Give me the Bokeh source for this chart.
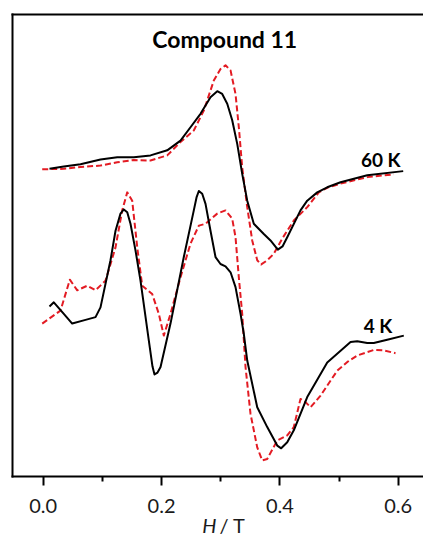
from bokeh.plotting import figure
from bokeh.models import Range1d, LinearAxis, FixedTicker, Label, NumeralTickFormatter
from bokeh.embed import file_html
from bokeh.resources import INLINE

# EPR spectra of compound 11: experiment (solid) and simulation (dashed).
# Intensities are in arbitrary units and already include the vertical
# stacking offset of each temperature.

# 60 K, experiment
h_60k_exp = [0.0106, 0.0348, 0.0630, 0.0968, 0.1251, 0.1531, 0.1813, 0.2096, 0.2320,
             0.2489, 0.2658, 0.2827, 0.2941, 0.3025, 0.3110, 0.3194, 0.3279, 0.3363,
             0.3448, 0.3559, 0.3728, 0.3841, 0.3965, 0.4044, 0.4124, 0.4348, 0.4462,
             0.4631, 0.4800, 0.5025, 0.5476, 0.6084]
i_60k_exp = [6.66, 6.71, 6.76, 6.86, 6.91, 6.91, 6.95, 7.06, 7.27,
             7.56, 7.85, 8.21, 8.34, 8.28, 8.07, 7.71, 7.20, 6.55,
             5.97, 5.47, 5.25, 5.11, 4.91, 4.98, 5.18, 5.76, 5.97,
             6.15, 6.26, 6.37, 6.52, 6.61]

# 60 K, simulation
h_60k_sim = [-0.0017, 0.0348, 0.0630, 0.0968, 0.1251, 0.1531, 0.1813, 0.2096, 0.2320,
             0.2545, 0.2714, 0.2883, 0.2996, 0.3081, 0.3166, 0.3250, 0.3306, 0.3363,
             0.3448, 0.3532, 0.3617, 0.3684, 0.3786, 0.3897, 0.4039, 0.4235, 0.4462,
             0.4658, 0.4800, 0.5025, 0.5476, 0.5925]
i_60k_sim = [6.65, 6.66, 6.70, 6.73, 6.80, 6.85, 6.84, 6.95, 7.24,
             7.49, 7.92, 8.57, 8.82, 8.90, 8.79, 8.28, 7.56, 6.69,
             5.83, 5.11, 4.68, 4.59, 4.68, 4.82, 5.15, 5.54, 5.83,
             6.15, 6.25, 6.34, 6.48, 6.54]

# 4 K, experiment
h_4k_exp = [0.0106, 0.0179, 0.0348, 0.0490, 0.0715, 0.0884, 0.0968, 0.1137, 0.1222,
            0.1306, 0.1362, 0.1420, 0.1475, 0.1560, 0.1644, 0.1785, 0.1847, 0.1881,
            0.1932, 0.1983, 0.2151, 0.2376, 0.2545, 0.2591, 0.2630, 0.2687, 0.2743,
            0.2827, 0.2912, 0.2996, 0.3081, 0.3166, 0.3250, 0.3335, 0.3390, 0.3448,
            0.3617, 0.3786, 0.3955, 0.4022, 0.4124, 0.4235, 0.4462, 0.4800, 0.5194,
            0.5307, 0.5476, 0.5587, 0.5814, 0.6094]
i_4k_exp = [3.68, 3.77, 3.52, 3.31, 3.39, 3.45, 3.66, 4.68, 5.32,
            5.69, 5.78, 5.72, 5.47, 4.89, 4.24, 2.94, 2.38, 2.21,
            2.25, 2.37, 3.31, 4.75, 5.76, 6.04, 6.18, 6.12, 5.90,
            5.32, 4.75, 4.60, 4.55, 4.42, 4.10, 3.52, 3.09, 2.51,
            1.50, 1.07, 0.67, 0.61, 0.74, 1.00, 1.72, 2.47, 2.91,
            2.93, 2.89, 2.89, 2.96, 3.05]

# 4 K, simulation
h_4k_sim = [-0.0017, 0.0292, 0.0450, 0.0575, 0.0744, 0.0884, 0.1053, 0.1222, 0.1335,
            0.1420, 0.1504, 0.1589, 0.1673, 0.1842, 0.1954, 0.2038, 0.2151, 0.2320,
            0.2489, 0.2630, 0.2743, 0.2941, 0.3081, 0.3194, 0.3250, 0.3306, 0.3363,
            0.3419, 0.3503, 0.3617, 0.3701, 0.3786, 0.3955, 0.4124, 0.4235, 0.4348,
            0.4433, 0.4518, 0.4687, 0.4969, 0.5140, 0.5307, 0.5587, 0.5756, 0.5954]
i_4k_sim = [3.31, 3.59, 4.26, 4.03, 4.13, 4.03, 4.24, 4.96, 5.76,
            6.15, 5.97, 4.96, 4.13, 3.95, 3.52, 3.05, 3.52, 4.31,
            5.04, 5.43, 5.47, 5.69, 5.76, 5.58, 5.18, 4.31, 3.52,
            2.37, 1.36, 0.63, 0.35, 0.38, 0.78, 0.89, 1.07, 1.68,
            1.61, 1.50, 1.75, 2.29, 2.48, 2.62, 2.74, 2.73, 2.67]

x_ticks = [0.0, 0.2, 0.4, 0.6]
x_minor_ticks = [0.1, 0.3, 0.5]

# plotting box (field and intensity limits of the drawn frame)
H_MIN, H_MAX = -0.0519, 0.6427
I_MIN, I_MAX = 0.0, 10.0

FONT = "Lato"
EXP_COLOR = "#000000"
SIM_COLOR = "#e31b23"

# the canvas range reaches beyond the box so the axis title fits below it
p = figure(width=423, height=540, output_backend="svg", toolbar_location=None,
           x_range=Range1d(-0.0722, 0.6427), y_range=Range1d(-1.385, 10.303),
           min_border_left=0, min_border_right=0, min_border_top=0,
           min_border_bottom=0)
p.outline_line_color = None
p.background_fill_color = "white"
p.border_fill_color = "white"
p.xgrid.visible = False
p.ygrid.visible = False

# bottom field axis, pinned to the lower edge of the box
xa = p.xaxis[0]
xa.fixed_location = I_MIN
xa.bounds = (H_MIN, H_MAX)
xa.ticker = FixedTicker(ticks=x_ticks, minor_ticks=x_minor_ticks)
xa.formatter = NumeralTickFormatter(format="0.0")
xa.axis_line_width = 2
xa.axis_line_color = "black"
xa.axis_line_cap = "square"
xa.major_tick_line_width = 2
xa.minor_tick_line_width = 2
xa.major_tick_in = 0
xa.major_tick_out = 9
xa.minor_tick_in = 0
xa.minor_tick_out = 5
xa.major_label_text_font = FONT
xa.major_label_text_font_size = "20px"
xa.major_label_text_color = "#1a1a1a"
xa.major_label_standoff = 13

# left edge of the box: no intensity scale
ya = p.yaxis[0]
ya.fixed_location = H_MIN
ya.bounds = (I_MIN, I_MAX)
ya.ticker = FixedTicker(ticks=[])
ya.axis_line_width = 2
ya.axis_line_color = "black"
ya.axis_line_cap = "square"

# top edge of the box
top = LinearAxis(ticker=FixedTicker(ticks=[]), fixed_location=I_MAX,
                 bounds=(H_MIN, H_MAX), axis_line_width=2, axis_line_color="black",
                 axis_line_cap="square")
p.add_layout(top, "above")

dash = "6 3"
p.line(h_60k_sim, i_60k_sim, line_color=SIM_COLOR, line_width=2, line_dash=dash,
       line_join="round")
p.line(h_60k_exp, i_60k_exp, line_color=EXP_COLOR, line_width=2, line_join="round")
p.line(h_4k_sim, i_4k_sim, line_color=SIM_COLOR, line_width=2, line_dash=dash,
       line_join="round")
p.line(h_4k_exp, i_4k_exp, line_color=EXP_COLOR, line_width=2, line_join="round")

p.add_layout(Label(x=0.3067, y=9.48, text="Compound 11", text_align="center",
                   text_baseline="alphabetic", text_font=FONT, text_font_style="bold",
                   text_font_size="23px", text_color="black"))
p.add_layout(Label(x=0.604, y=6.86, text="60 K", text_align="right",
                   text_baseline="alphabetic", text_font=FONT, text_font_style="bold",
                   text_font_size="19px", text_color="black"))
p.add_layout(Label(x=0.590, y=3.27, text="4 K", text_align="right",
                   text_baseline="alphabetic", text_font=FONT, text_font_style="bold",
                   text_font_size="19px", text_color="black"))

# axis title: italic H, upright unit
p.add_layout(Label(x=0.2929, y=-1.04, text="H", text_align="right",
                   text_baseline="alphabetic", text_font=FONT, text_font_style="italic",
                   text_font_size="20px", text_color="#1a1a1a"))
p.add_layout(Label(x=0.2979, y=-1.04, text="/ T", text_align="left",
                   text_baseline="alphabetic", text_font=FONT,
                   text_font_size="20px", text_color="#1a1a1a"))

open("out.html", "w").write(file_html(p, INLINE))
